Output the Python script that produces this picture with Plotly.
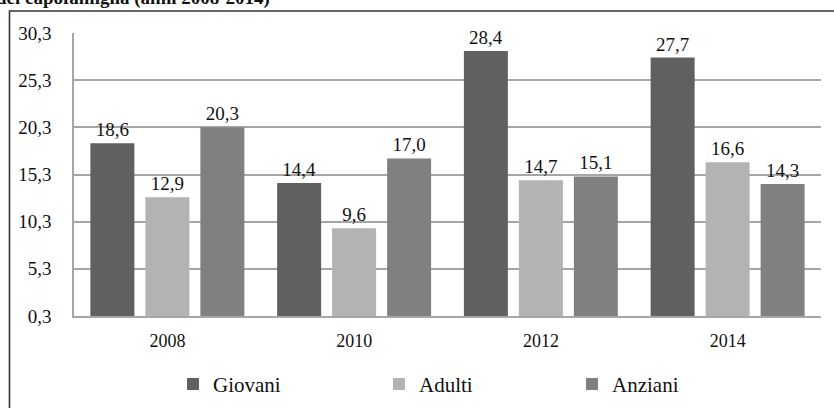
import plotly.graph_objects as go

# Categorie (anni) e valori per classe di età
anni = ["2008", "2010", "2012", "2014"]
giovani = [18.6, 14.4, 28.4, 27.7]
adulti = [12.9, 9.6, 14.7, 16.6]
anziani = [20.3, 17.0, 15.1, 14.3]
tick_vals = [0.3, 5.3, 10.3, 15.3, 20.3, 25.3, 30.3]
tick_text = ["0,3", "5,3", "10,3", "15,3", "20,3", "25,3", "30,3"]

SERIF = "Liberation Serif"


def lab(vals):
    return [f"{v:.1f}".replace(".", ",") for v in vals]


series = [
    ("Giovani", giovani, "#606060", "legend"),
    ("Adulti", adulti, "#b3b3b3", "legend2"),
    ("Anziani", anziani, "#808080", "legend3"),
]

fig = go.Figure()
for name, vals, col, leg in series:
    fig.add_trace(go.Bar(
        x=anni, y=vals, name=name,
        marker=dict(color=col, line=dict(width=0)),
        text=lab(vals), textposition="outside",
        textfont=dict(family=SERIF, size=19, color="#111"),
        cliponaxis=False, legend=leg,
    ))

W, H = 834, 408
ml, mr, mt, mb = 74, 13, 32.5, 92.3
pw = W - ml - mr
ph = H - mt - mb


def px_x(p):
    return (p - ml) / pw


def px_y(p):
    return 1 - (p - mt) / ph


def legend_at(px):
    return dict(orientation="h", xanchor="left", yanchor="middle",
                x=px_x(px), y=px_y(384),
                font=dict(family=SERIF, size=21, color="#111"),
                bgcolor="rgba(0,0,0,0)", itemwidth=30)


fig.update_layout(
    width=W, height=H,
    template="none",
    font=dict(family=SERIF, color="#111"),
    margin=dict(l=ml, r=mr, t=mt, b=mb, autoexpand=False),
    paper_bgcolor="white", plot_bgcolor="white",
    barmode="group", bargap=0.1165, bargroupgap=0.2,
    showlegend=True,
    legend=legend_at(173),
    legend2=legend_at(379),
    legend3=legend_at(572),
    xaxis=dict(
        showgrid=False, showline=True, linecolor="#a6a6a6", linewidth=1.5,
        ticks="", ticklabelstandoff=8, automargin=False,
        tickfont=dict(family=SERIF, size=18, color="#111"),
    ),
    yaxis=dict(
        range=[0.3, 30.3], tickmode="array", tickvals=tick_vals, ticktext=tick_text,
        showgrid=True, gridcolor="#a6a6a6", gridwidth=1.5,
        showline=True, linecolor="#a6a6a6", linewidth=1.5,
        zeroline=False, ticks="", ticklabelstandoff=17, automargin=False,
        tickfont=dict(family=SERIF, size=19, color="#111"),
    ),
    annotations=[dict(
        text="<b>del capofamiglia (anni 2008-2014)</b>",
        xref="paper", yref="paper", x=px_x(272), y=px_y(10),
        xanchor="right", yanchor="bottom", showarrow=False,
        font=dict(family=SERIF, size=19, color="#111"),
    )],
    shapes=[dict(
        type="rect", xref="paper", yref="paper",
        x0=px_x(9.5), x1=px_x(850), y0=px_y(430), y1=px_y(10.5),
        line=dict(color="#333", width=1.6), fillcolor="rgba(0,0,0,0)", layer="below",
    )],
)

fig.write_html("out.html")
